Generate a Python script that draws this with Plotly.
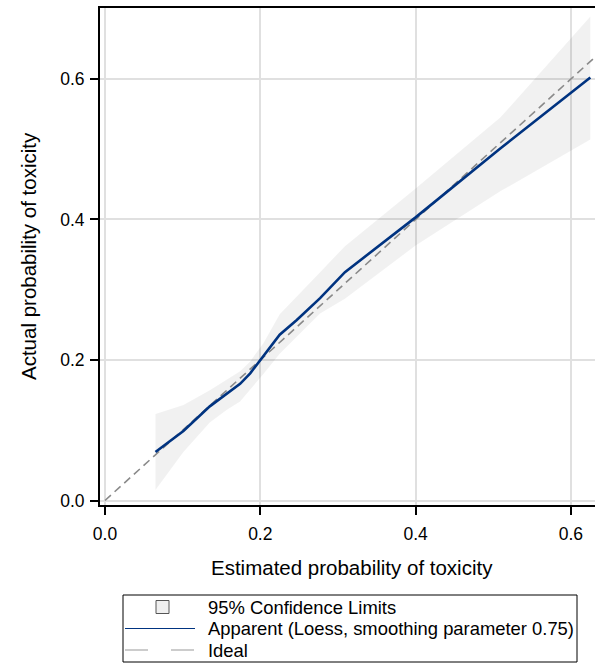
import plotly.graph_objects as go

# Loess calibration curve (estimated vs. actual probability of toxicity)
loess_x = [0.065, 0.101, 0.135, 0.157, 0.174, 0.187, 0.204, 0.225, 0.247, 0.277, 0.309, 0.400, 0.509, 0.625]
loess_y = [0.069, 0.099, 0.134, 0.152, 0.166, 0.181, 0.205, 0.236, 0.257, 0.288, 0.325, 0.403, 0.501, 0.602]

# 95% confidence limits on the same grid
ci_upper = [0.123, 0.136, 0.157, 0.172, 0.184, 0.198, 0.224, 0.265, 0.290, 0.325, 0.362, 0.444, 0.545, 0.689]
ci_lower = [0.015, 0.069, 0.111, 0.129, 0.141, 0.157, 0.180, 0.209, 0.233, 0.266, 0.287, 0.363, 0.440, 0.514]

# Ideal calibration (y = x)
ideal_x = [0.0, 0.7]
ideal_y = [0.0, 0.7]

tick_vals = [0.0, 0.2, 0.4, 0.6]
x_range = [-0.0064, 0.631]
y_range = [-0.0064, 0.701]

legend_labels = ["95% Confidence Limits",
                 "Apparent (Loess, smoothing parameter 0.75)",
                 "Ideal"]

x_title = "Estimated probability of toxicity"
y_title = "Actual probability of toxicity"

W, H = 595, 665
ML, MR, MT, MB = 100, 0, 8, 160
PW, PH = W - ML - MR, H - MT - MB

FONT = "Liberation Sans, Arial, sans-serif"
LOESS_COLOR = "rgb(0,51,128)"


def px_x(px):
    return (px - ML) / PW


def px_y(py):
    return (H - MB - py) / PH


fig = go.Figure()

fig.add_trace(go.Scatter(
    x=loess_x + loess_x[::-1],
    y=ci_upper + ci_lower[::-1],
    fill="toself",
    fillcolor="rgba(0,0,0,0.055)",
    line=dict(width=0),
    mode="lines",
    hoverinfo="skip",
    showlegend=False,
))

fig.add_trace(go.Scatter(
    x=ideal_x, y=ideal_y, mode="lines",
    line=dict(color="#8a8a8a", width=1.6, dash="8px,5px"),
    showlegend=False,
))

fig.add_trace(go.Scatter(
    x=loess_x, y=loess_y, mode="lines",
    line=dict(color=LOESS_COLOR, width=2.6),
    showlegend=False,
))

axis_common = dict(
    tickvals=tick_vals,
    tickformat=".1f",
    showgrid=True,
    gridcolor="#e0e0e0",
    gridwidth=1.5,
    zeroline=True,
    zerolinecolor="#e0e0e0",
    zerolinewidth=1.5,
    showline=True,
    linecolor="black",
    linewidth=2,
    ticks="outside",
    ticklen=8,
    tickwidth=1.5,
    tickcolor="black",
    tickfont=dict(family=FONT, size=17.5, color="black"),
)

fig.update_xaxes(range=x_range, mirror=True, ticklabelstandoff=4, **axis_common)
fig.update_yaxes(range=y_range, ticklabelstandoff=2, **axis_common)

annotations = [
    dict(text=x_title, x=px_x(352), y=px_y(567), xref="paper", yref="paper",
         xanchor="center", yanchor="middle", showarrow=False,
         font=dict(family=FONT, size=20.5, color="black")),
    dict(text=y_title, x=px_x(28), y=px_y(256), xref="paper", yref="paper",
         xanchor="center", yanchor="middle", showarrow=False, textangle=-90,
         font=dict(family=FONT, size=20.5, color="black")),
]

# Legend box drawn below the plot
row_y = [607, 628.5, 650]
for label, ry in zip(legend_labels, row_y):
    annotations.append(dict(
        text=label, x=px_x(206), y=px_y(ry), xref="paper", yref="paper",
        xanchor="left", yanchor="middle", showarrow=False,
        font=dict(family=FONT, size=18.4, color="black")))

shapes = [
    dict(type="rect", xref="paper", yref="paper",
         x0=px_x(123), x1=px_x(577), y0=px_y(662), y1=px_y(595),
         line=dict(color="black", width=1), fillcolor="rgba(0,0,0,0)"),
    dict(type="rect", xref="paper", yref="paper",
         x0=px_x(156), x1=px_x(169), y0=px_y(row_y[0] + 6.5), y1=px_y(row_y[0] - 6.5),
         line=dict(color="#555555", width=1), fillcolor="#efefef"),
    dict(type="line", xref="paper", yref="paper",
         x0=px_x(125), x1=px_x(195), y0=px_y(row_y[1]), y1=px_y(row_y[1]),
         line=dict(color=LOESS_COLOR, width=1.2)),
    dict(type="line", xref="paper", yref="paper",
         x0=px_x(125), x1=px_x(148), y0=px_y(row_y[2]), y1=px_y(row_y[2]),
         line=dict(color="#aaaaaa", width=1.2)),
    dict(type="line", xref="paper", yref="paper",
         x0=px_x(171), x1=px_x(194), y0=px_y(row_y[2]), y1=px_y(row_y[2]),
         line=dict(color="#aaaaaa", width=1.2)),
]

fig.update_layout(
    width=W, height=H, autosize=False,
    margin=dict(l=ML, r=MR, t=MT, b=MB, pad=0),
    paper_bgcolor="white", plot_bgcolor="white",
    showlegend=False,
    annotations=annotations,
    shapes=shapes,
    font=dict(family=FONT, color="black"),
)

fig.write_html("out.html")
